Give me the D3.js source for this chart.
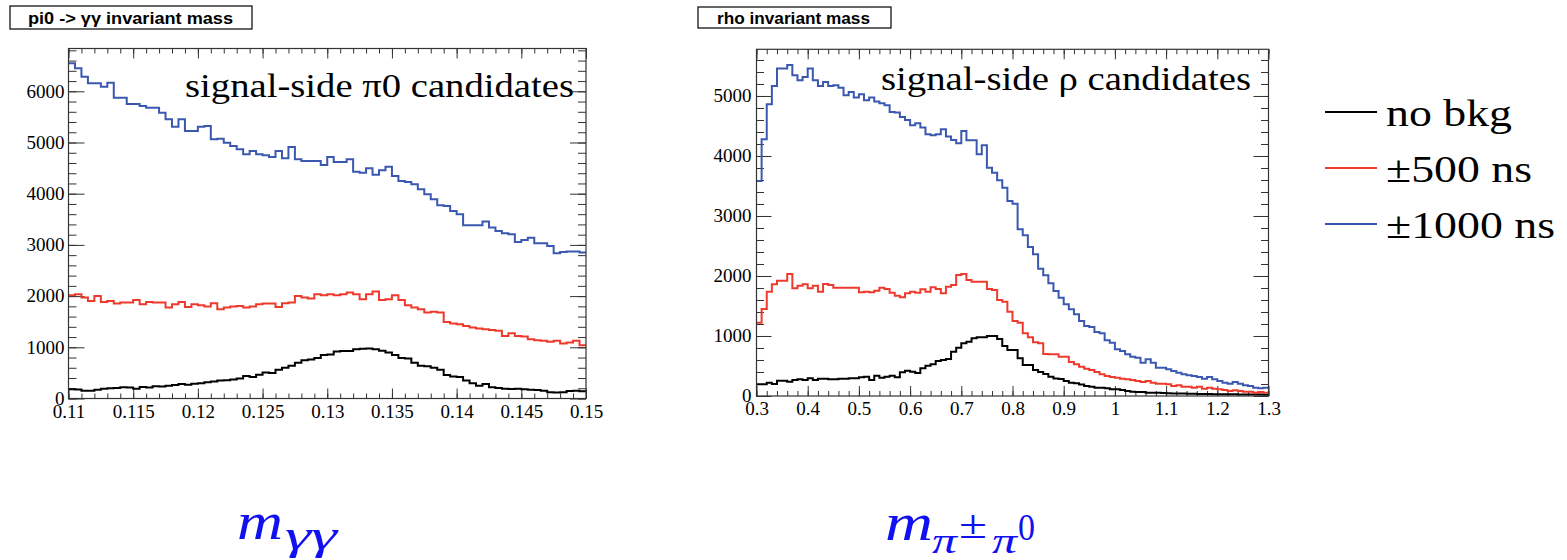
<!DOCTYPE html>
<html>
  <head>
    <meta charset="utf-8">
    <title>invariant mass</title>
    <script src="https://d3js.org/d3.v7.min.js"></script>
    <style>
      body { margin: 0; background: #fff; }
      svg { display: block; }
    </style>
  </head>
  <body>
    <div id="graph"></div>
  </body>

  <script>
    // pi0 -> gamma gamma, 80 bins from 0.11 to 0.15
    const pi0Range = [0.11, 0.15];
    const pi0NoBkg = [180, 175, 150, 150, 170, 190, 200, 205, 220, 215,
      190, 225, 215, 240, 235, 250, 265, 285, 270, 290,
      300, 315, 330, 350, 355, 370, 390, 440, 420, 465,
      510, 500, 560, 600, 640, 700, 745, 760, 790, 850,
      860, 920, 930, 930, 960, 970, 975, 960, 935, 900,
      850, 790, 780, 700, 640, 630, 600, 560, 460, 430,
      420, 350, 300, 250, 285, 220, 205, 190, 185, 190,
      180, 170, 165, 150, 120, 115, 120, 145, 150, 140];
    const pi0Bkg500 = [2017, 2036, 1971, 1906, 2004, 1887, 1906, 1854, 1874, 1874,
      1926, 1841, 1887, 1874, 1874, 1776, 1841, 1887, 1789, 1841,
      1822, 1796, 1861, 1744, 1776, 1796, 1809, 1776, 1796, 1841,
      1854, 1854, 1789, 1861, 1874, 2004, 1971, 1952, 2036, 2017,
      2036, 2017, 2036, 2069, 2036, 1939, 2036, 2088, 1926, 1939,
      2017, 1926, 1822, 1776, 1744, 1678, 1692, 1678, 1496, 1464,
      1451, 1418, 1386, 1366, 1353, 1340, 1321, 1223, 1275, 1223,
      1210, 1158, 1138, 1126, 1106, 1126, 1073, 1093, 1126, 1041];
    const pi0Bkg1000 = [6547, 6449, 6285, 6156, 6156, 6090, 6168, 5875, 5875, 5752,
      5752, 5713, 5680, 5680, 5582, 5453, 5309, 5453, 5225, 5225,
      5309, 5322, 5062, 5075, 4997, 4932, 4866, 4769, 4834, 4769,
      4749, 4717, 4834, 4691, 4912, 4671, 4639, 4639, 4639, 4561,
      4717, 4619, 4619, 4671, 4431, 4411, 4496, 4372, 4457, 4528,
      4346, 4248, 4229, 4183, 4086, 3988, 3891, 3774, 3760, 3663,
      3598, 3383, 3383, 3383, 3455, 3338, 3273, 3227, 3207, 3058,
      3097, 3142, 3032, 3032, 2980, 2837, 2863, 2869, 2869, 2850];
    const pi0XTicks = [0.11, 0.115, 0.12, 0.125, 0.13, 0.135, 0.14, 0.145, 0.15];
    const pi0YTicks = [0, 1000, 2000, 3000, 4000, 5000, 6000];

    // rho, 100 bins from 0.3 to 1.3
    const rhoRange = [0.3, 1.3];
    const rhoNoBkg = [194, 194, 222, 200, 255, 255, 239, 267, 278, 267,
      294, 267, 289, 289, 278, 278, 289, 289, 294, 294,
      311, 322, 267, 339, 306, 322, 339, 311, 394, 422,
      406, 383, 461, 506, 528, 583, 600, 617, 739, 806,
      878, 906, 961, 978, 978, 1000, 1000, 950, 833, 767,
      767, 628, 517, 517, 433, 400, 367, 322, 290, 283,
      250, 222, 211, 190, 167, 156, 139, 139, 128, 111,
      111, 100, 83, 72, 67, 67, 56, 56, 56, 50,
      44, 42, 40, 40, 38, 36, 35, 34, 33, 31,
      30, 30, 29, 28, 27, 26, 25, 24, 23, 22];
    const rhoBkg500 = [1222, 1450, 1739, 1861, 1922, 1922, 2033, 1794, 1839, 1861,
      1794, 1839, 1739, 1867, 1850, 1806, 1806, 1806, 1806, 1806,
      1728, 1739, 1728, 1756, 1806, 1783, 1722, 1672, 1644, 1711,
      1739, 1722, 1778, 1739, 1811, 1783, 1711, 1822, 1850, 2017,
      2033, 1933, 1906, 1906, 1906, 1783, 1767, 1600, 1572, 1406,
      1250, 1222, 1044, 978, 894, 878, 700, 694, 694, 656,
      656, 567, 528, 489, 456, 433, 400, 361, 333, 317,
      306, 289, 278, 267, 250, 233, 250, 222, 206, 206,
      194, 167, 178, 156, 156, 139, 156, 122, 139, 122,
      111, 100, 83, 94, 83, 72, 72, 56, 67, 56];
    const rhoBkg1000 = [3583, 4278, 4861, 5167, 5456, 5456, 5517, 5345, 5261, 5317,
      5456, 5261, 5167, 5234, 5167, 5178, 5139, 5011, 5067, 4973,
      5028, 4928, 4973, 4906, 4878, 4845, 4734, 4723, 4650, 4600,
      4511, 4545, 4473, 4361, 4345, 4361, 4445, 4323, 4267, 4211,
      4417, 4261, 4261, 4028, 4178, 3806, 3722, 3595, 3472, 3250,
      3206, 2778, 2678, 2484, 2361, 2122, 2011, 1878, 1750, 1639,
      1528, 1445, 1361, 1250, 1167, 1150, 1067, 1045, 928, 889,
      778, 750, 694, 656, 639, 556, 611, 556, 472, 472,
      444, 417, 389, 361, 344, 333, 317, 289, 317, 278,
      250, 222, 206, 233, 206, 178, 167, 139, 128, 139];
    const rhoXTicks = [0.3, 0.4, 0.5, 0.6, 0.7, 0.8, 0.9, 1, 1.1, 1.2, 1.3];
    const rhoYTicks = [0, 1000, 2000, 3000, 4000, 5000];

    const legendLabels = ["no bkg", "\u00b1500 ns", "\u00b11000 ns"];
    const legendWidths = [126, 146, 169];
    const seriesColors = ["#000000", "#ee3a2c", "#3a58b0"];

    const width = 1567;
    const height = 560;
    const serif = "'Liberation Serif', 'Times New Roman', serif";

    let svg = d3.select("#graph").append("svg")
      .attr("width", width)
      .attr("height", height);

    function drawPanel(p) {
      const x = d3.scaleLinear().domain(p.xRange).range([p.left, p.right]);
      const y = d3.scaleLinear().domain([0, p.yMax]).range([p.bottom, p.top]);
      const g = svg.append("g");

      // minor ticks: 5 divisions between majors
      const xStep = (p.xTicks[1] - p.xTicks[0]) / 5;
      const xMinor = d3.range(p.xRange[0], p.xRange[1] + xStep / 2, xStep);
      const yStep = (p.yTicks[1] - p.yTicks[0]) / 5;
      const yMinor = d3.range(0, p.yMax, yStep);

      const axes = [
        [d3.axisBottom(x).tickValues(xMinor).tickSize(-5), p.bottom, "x"],
        [d3.axisTop(x).tickValues(xMinor).tickSize(-5), p.top, "x"],
        [d3.axisTop(x).tickValues(p.xTicks).tickSize(-10), p.top, "x"],
        [d3.axisLeft(y).tickValues(yMinor).tickSize(-p.yTickLen / 2), p.left, "y"],
        [d3.axisRight(y).tickValues(yMinor).tickSize(-p.yTickLen / 2), p.right, "y"],
        [d3.axisRight(y).tickValues(p.yTicks).tickSize(-p.yTickLen), p.right, "y"]
      ];
      axes.forEach(([ax, pos, dir]) => {
        const a = g.append("g")
          .attr("transform", dir === "x" ? `translate(0,${pos})` : `translate(${pos},0)`)
          .call(ax.tickFormat("").tickSizeOuter(0));
        a.select(".domain").remove();
        a.selectAll("line").attr("stroke", "#333");
      });

      // labelled major ticks
      const xAx = g.append("g")
        .attr("transform", `translate(0,${p.bottom})`)
        .call(d3.axisBottom(x).tickValues(p.xTicks).tickSize(-10).tickSizeOuter(0)
          .tickPadding(6).tickFormat(d => String(+d.toFixed(3))));
      const yAx = g.append("g")
        .attr("transform", `translate(${p.left},0)`)
        .call(d3.axisLeft(y).tickValues(p.yTicks).tickSize(-p.yTickLen).tickSizeOuter(0)
          .tickPadding(p.yPad).tickFormat(d => String(d)));
      [xAx, yAx].forEach(a => {
        a.attr("font-family", null);
        a.select(".domain").remove();
        a.selectAll("line").attr("stroke", "#333");
        a.selectAll("text")
          .attr("fill", "#000")
          .style("font-family", serif)
          .style("font-size", "19px");
      });
      yAx.selectAll("text").attr("dy", "0.3em");

      // histograms
      p.series.forEach((values, k) => {
        const n = values.length;
        const pts = values.map((v, i) => [p.xRange[0] + (p.xRange[1] - p.xRange[0]) * i / n, v]);
        pts.push([p.xRange[1], values[n - 1]]);
        g.append("path")
          .attr("d", d3.line().x(d => x(d[0])).y(d => y(d[1])).curve(d3.curveStepAfter)(pts))
          .attr("fill", "none")
          .attr("stroke", seriesColors[k])
          .attr("stroke-width", 2);
      });

      // frame
      g.append("rect")
        .attr("x", p.left).attr("y", p.top)
        .attr("width", p.right - p.left).attr("height", p.bottom - p.top)
        .attr("fill", "none").attr("stroke", "#333").attr("stroke-width", 1.2);

      // in-plot caption
      g.append("text")
        .attr("x", p.captionX).attr("y", p.captionY)
        .attr("textLength", p.captionW)
        .attr("lengthAdjust", "spacingAndGlyphs")
        .style("font-family", serif)
        .style("font-size", "34px")
        .text(p.caption);

      // title box
      g.append("rect")
        .attr("x", p.titleBox[0]).attr("y", p.titleBox[1])
        .attr("width", p.titleBox[2]).attr("height", p.titleBox[3])
        .attr("fill", "#fff").attr("stroke", "#000").attr("stroke-width", 1.2);
      g.append("text")
        .attr("x", p.titleX)
        .attr("y", p.titleBox[1] + p.titleBox[3] / 2 + 6)
        .attr("textLength", p.titleW)
        .attr("lengthAdjust", "spacingAndGlyphs")
        .style("font-family", "'Liberation Sans', Arial, sans-serif")
        .style("font-weight", "bold")
        .style("font-size", "16px")
        .text(p.title);
    }

    drawPanel({
      xRange: pi0Range, yMax: 6836, xTicks: pi0XTicks, yTicks: pi0YTicks,
      left: 68.5, right: 586, top: 48.5, bottom: 398.5, yTickLen: 16, yPad: 4,
      series: [pi0NoBkg, pi0Bkg500, pi0Bkg1000],
      caption: "signal-side \u03c00 candidates", captionX: 185, captionY: 97, captionW: 389,
      title: "pi0 -> \u03b3\u03b3 invariant mass", titleBox: [10, 6, 242, 23], titleX: 28, titleW: 205
    });
    drawPanel({
      xRange: rhoRange, yMax: 5778, xTicks: rhoXTicks, yTicks: rhoYTicks,
      left: 756.5, right: 1268.5, top: 49.3, bottom: 396, yTickLen: 15, yPad: 5,
      series: [rhoNoBkg, rhoBkg500, rhoBkg1000],
      caption: "signal-side \u03c1 candidates", captionX: 881, captionY: 90, captionW: 370,
      title: "rho invariant mass", titleBox: [698, 7, 193, 21], titleX: 717, titleW: 153
    });

    // legend
    const legend = svg.append("g");
    legendLabels.forEach((label, i) => {
      const yy = 112 + i * 56;
      legend.append("line")
        .attr("x1", 1325).attr("x2", 1377)
        .attr("y1", yy).attr("y2", yy)
        .attr("stroke", seriesColors[i]).attr("stroke-width", 2);
      legend.append("text")
        .attr("x", 1386).attr("y", yy + 14)
        .attr("textLength", legendWidths[i])
        .attr("lengthAdjust", "spacingAndGlyphs")
        .style("font-family", serif)
        .style("font-size", "38px")
        .text(label);
    });

    // axis variable labels under the plots
    const mathBlue = "#1010f0";
    const lab1 = svg.append("text")
      .attr("fill", mathBlue)
      .style("font-family", serif)
      .style("font-style", "italic");
    lab1.append("tspan").attr("x", 237).attr("y", 539).style("font-size", "52px")
      .attr("textLength", 46).attr("lengthAdjust", "spacingAndGlyphs").text("m");
    lab1.append("tspan").attr("x", 285).attr("y", 549).style("font-size", "40px")
      .attr("textLength", 52).attr("lengthAdjust", "spacingAndGlyphs").text("\u03b3\u03b3");

    const lab2 = svg.append("text")
      .attr("fill", mathBlue)
      .style("font-family", serif);
    lab2.append("tspan").attr("x", 885).attr("y", 540).style("font-size", "52px").style("font-style", "italic")
      .attr("textLength", 48).attr("lengthAdjust", "spacingAndGlyphs").text("m");
    lab2.append("tspan").attr("x", 932).attr("y", 553).style("font-size", "36px").style("font-style", "italic")
      .attr("textLength", 25).attr("lengthAdjust", "spacingAndGlyphs").text("\u03c0");
    lab2.append("tspan").attr("x", 959).attr("y", 538).style("font-size", "40px")
      .attr("textLength", 28).attr("lengthAdjust", "spacingAndGlyphs").text("\u00b1");
    lab2.append("tspan").attr("x", 992).attr("y", 553).style("font-size", "36px").style("font-style", "italic")
      .attr("textLength", 25).attr("lengthAdjust", "spacingAndGlyphs").text("\u03c0");
    lab2.append("tspan").attr("x", 1018).attr("y", 540).style("font-size", "37px")
      .attr("textLength", 17).attr("lengthAdjust", "spacingAndGlyphs").text("0");
  </script>
</html>
